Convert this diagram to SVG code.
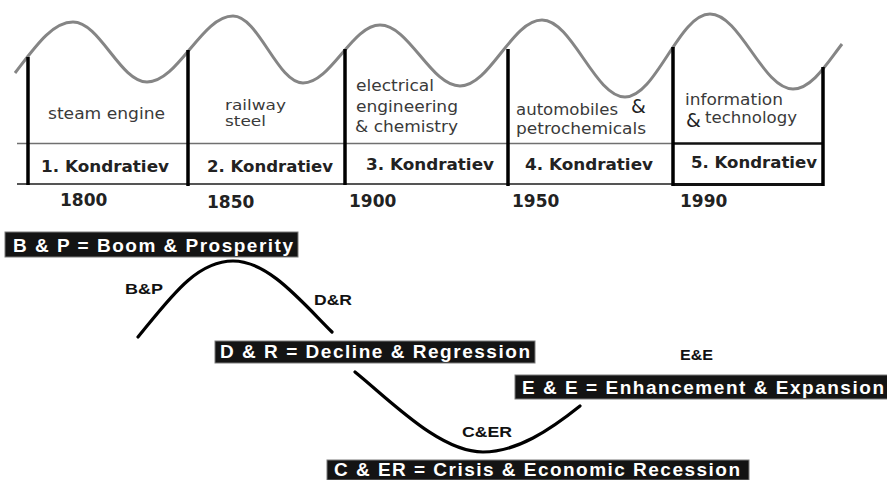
<svg xmlns="http://www.w3.org/2000/svg" width="887" height="480" viewBox="0 0 887 480">
<style>
.desc{font-family:"DejaVu Sans",sans-serif;font-size:16px;fill:#3a3a3a}
.sm{font-size:13.5px}
.amp{font-family:"DejaVu Sans",sans-serif;font-size:19px;fill:#222}
.kon{font-family:"DejaVu Sans",sans-serif;font-size:16.5px;font-weight:bold;fill:#222}
.year{font-family:"DejaVu Sans",sans-serif;font-size:17px;font-weight:bold;fill:#222}
.bar{stroke:#000;stroke-width:3.5;fill:none}
.box{fill:#141414;stroke:#7a7a7a;stroke-width:1}
.boxt{font-family:"Liberation Sans",Arial,sans-serif;font-size:19px;font-weight:bold;fill:#fff}
.lbl{font-family:"Liberation Sans",Arial,sans-serif;font-size:15.5px;font-weight:bold;fill:#111}
.curve{fill:none;stroke:#000;stroke-width:3.2;stroke-linecap:round}
</style>
<rect width="887" height="480" fill="#fff"/>
<g id="wave">
<path d="M15,73 C35,47 52,22 73,22 C99.9,22 120.1,82 147,82 C178.3,82 201.7,16 233,16 C258.5,16 277.5,83 303,83 C331,83 352,25 380,25 C409.1,25 430.9,86 460,86 C489.9,86 512.1,20 542,20 C572.2,20 594.8,97 625,97 C656,97 679,14 710,14 C740.2,14 762.8,89 793,89 C812,89 828,62 842,44" fill="none" stroke="#858585" stroke-width="3"/>
</g>
<g id="timeline">
<line x1="17" y1="143.5" x2="673" y2="143.5" stroke="#707070" stroke-width="1.6"/>
<line x1="673" y1="143.5" x2="823" y2="143.5" stroke="#111" stroke-width="2.5"/>
<line x1="17" y1="184" x2="673" y2="184" stroke="#555" stroke-width="2"/>
<line x1="673" y1="184.5" x2="823" y2="184.5" stroke="#111" stroke-width="3"/>
<line class="bar" x1="28" y1="57" x2="28" y2="185"/>
<line class="bar" x1="188" y1="50" x2="188" y2="186"/>
<line class="bar" x1="345" y1="49" x2="345" y2="185"/>
<line class="bar" x1="508" y1="49" x2="508" y2="186"/>
<line class="bar" x1="673" y1="47" x2="673" y2="186"/>
<line class="bar" x1="823" y1="67" x2="823" y2="186"/>
</g>
<g id="k1">
<text class="desc" x="48" y="119" textLength="117" lengthAdjust="spacingAndGlyphs">steam engine</text>
<text class="kon" x="41" y="172" textLength="128" lengthAdjust="spacingAndGlyphs">1. Kondratiev</text>
</g>
<g id="k2">
<text class="desc sm" x="225" y="110" textLength="61" lengthAdjust="spacingAndGlyphs">railway</text>
<text class="desc sm" x="225" y="126" textLength="41" lengthAdjust="spacingAndGlyphs">steel</text>
<text class="kon" x="207" y="172" textLength="126" lengthAdjust="spacingAndGlyphs">2. Kondratiev</text>
</g>
<g id="k3">
<text class="desc" x="356" y="91" textLength="78" lengthAdjust="spacingAndGlyphs">electrical</text>
<text class="desc" x="356" y="112" textLength="102" lengthAdjust="spacingAndGlyphs">engineering</text>
<text class="desc" x="355" y="132" textLength="103" lengthAdjust="spacingAndGlyphs">&amp; chemistry</text>
<text class="kon" x="366" y="170" textLength="128" lengthAdjust="spacingAndGlyphs">3. Kondratiev</text>
</g>
<g id="k4">
<text class="desc" x="516" y="115" textLength="102" lengthAdjust="spacingAndGlyphs">automobiles</text>
<text class="amp" x="631" y="113">&amp;</text>
<text class="desc" x="516" y="134" textLength="130" lengthAdjust="spacingAndGlyphs">petrochemicals</text>
<text class="kon" x="525" y="170" textLength="128" lengthAdjust="spacingAndGlyphs">4. Kondratiev</text>
</g>
<g id="k5">
<text class="desc" x="685" y="105" textLength="98" lengthAdjust="spacingAndGlyphs">information</text>
<text class="amp" x="686" y="127">&amp;</text>
<text class="desc" x="705" y="123" textLength="92" lengthAdjust="spacingAndGlyphs">technology</text>
<text class="kon" x="691" y="168" textLength="126" lengthAdjust="spacingAndGlyphs">5. Kondratiev</text>
</g>
<g id="years">
<text class="year" x="60" y="206">1800</text>
<text class="year" x="207" y="208">1850</text>
<text class="year" x="349" y="207">1900</text>
<text class="year" x="512" y="207">1950</text>
<text class="year" x="680" y="207">1990</text>
</g>
<g id="legend-bp">
<rect class="box" x="5" y="232" width="293" height="25"/>
<text class="boxt" x="13" y="252" textLength="280" lengthAdjust="spacing">B &amp; P = Boom  &amp; Prosperity</text>
</g>
<g id="legend-dr">
<rect class="box" x="215" y="341" width="320" height="22"/>
<text class="boxt" x="220" y="358" textLength="310" lengthAdjust="spacing">D &amp; R =  Decline &amp; Regression</text>
</g>
<g id="legend-ee">
<rect class="box" x="515" y="375" width="380" height="24"/>
<text class="boxt" x="522" y="394" textLength="362" lengthAdjust="spacing">E &amp; E = Enhancement &amp; Expansion</text>
</g>
<g id="legend-cer">
<rect class="box" x="327" y="460" width="422" height="20"/>
<text class="boxt" x="334" y="476" textLength="406" lengthAdjust="spacing">C &amp; ER = Crisis &amp; Economic Recession</text>
</g>
<g id="connectors">
<path class="curve" d="M138,337 C170,298 196,261 233,261 C268,261 300,300 332,332"/>
<path class="curve" d="M355,372 C392,402 440,452 483,452 C517,452 550,430 580,406"/>
</g>
<g id="phase-labels">
<text class="lbl" x="125" y="294" textLength="38" lengthAdjust="spacingAndGlyphs">B&amp;P</text>
<text class="lbl" x="314" y="305" textLength="38" lengthAdjust="spacingAndGlyphs">D&amp;R</text>
<text class="lbl" x="462" y="437" textLength="50" lengthAdjust="spacingAndGlyphs">C&amp;ER</text>
<text class="lbl" x="680" y="360" textLength="33" lengthAdjust="spacingAndGlyphs">E&amp;E</text>
</g>
</svg>
